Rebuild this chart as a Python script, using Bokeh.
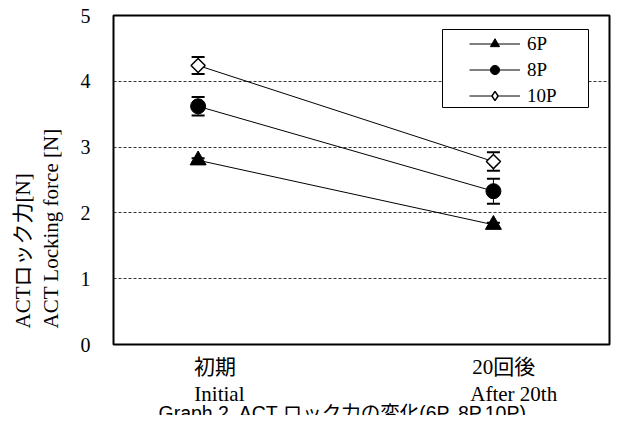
import math
from bokeh.plotting import figure
from bokeh.models import (Range1d, FixedTicker, LinearAxis, Legend, LegendItem,
                          Title, BoxAnnotation)
from bokeh.embed import file_html
from bokeh.resources import INLINE

# ---- data ----
x_pos = [1, 2]
cat_jp = ["初期", "20回後"]
cat_en = ["Initial", "After 20th"]
series = ["6P", "8P", "10P"]
v6 = [2.80, 1.82]
e6 = [0.03, 0.03]
v8 = [3.62, 2.33]
e8 = [0.14, 0.19]
v10 = [4.24, 2.78]
e10 = [0.13, 0.14]
y_ticks = [0, 1, 2, 3, 4, 5]
y_label_jp = "ACTロック力[N]"
y_label_en = "ACT Locking force [N]"
caption = "Graph 2. ACT ロック力の変化(6P, 8P,10P)"

SERIF = "Liberation Serif, Noto Sans CJK JP"
SANS = "Liberation Sans, Noto Sans CJK JP"

X0, X1 = 0.7135, 2.393
p = figure(width=612, height=415, output_backend="svg", toolbar_location=None,
           x_range=Range1d(X0, X1), y_range=Range1d(0, 5),
           min_border_left=113, min_border_right=3, min_border_top=15,
           min_border_bottom=71)
p.background_fill_color = "white"
p.border_fill_color = "white"
p.outline_line_color = "black"
p.outline_line_width = 2

# label offsets (pixels right of the category position) converted to data units
px_per_unit = 496 / (X1 - X0)
jp_ticks = [x_pos[0] + 16.8 / px_per_unit, x_pos[1] + 10.3 / px_per_unit]
en_ticks = [x_pos[0] + 21.3 / px_per_unit, x_pos[1] + 20.3 / px_per_unit]

# primary x axis: Japanese labels
xa = p.xaxis[0]
xa.ticker = FixedTicker(ticks=jp_ticks)
xa.major_label_overrides = {t: c for t, c in zip(jp_ticks, cat_jp)}
xa.major_tick_out = 0
xa.major_tick_in = 0
xa.minor_tick_out = 0
xa.minor_tick_in = 0
xa.axis_line_color = None
xa.major_label_standoff = 10
xa.major_label_text_font = SERIF
xa.major_label_text_font_size = "21px"
xa.major_label_text_color = "black"

# y axis
ya = p.yaxis[0]
ya.ticker = FixedTicker(ticks=y_ticks)
ya.major_tick_out = 0
ya.major_tick_in = 0
ya.minor_tick_out = 0
ya.minor_tick_in = 0
ya.axis_line_color = None
ya.major_label_standoff = 23
ya.major_label_text_font = SERIF
ya.major_label_text_font_size = "20px"
ya.major_label_text_color = "black"

# second x axis: English labels
xa2 = LinearAxis(ticker=FixedTicker(ticks=en_ticks),
                 major_label_overrides={t: c for t, c in zip(en_ticks, cat_en)},
                 major_tick_out=0, major_tick_in=0, minor_tick_out=0, minor_tick_in=0,
                 axis_line_color=None, major_label_standoff=0,
                 major_label_text_font=SERIF, major_label_text_font_size="21px",
                 major_label_text_color="black")
p.add_layout(xa2, "below")

p.xgrid.visible = False
p.ygrid.ticker = FixedTicker(ticks=y_ticks)
p.ygrid.grid_line_color = "#333333"
p.ygrid.grid_line_dash = "3 2"
p.ygrid.grid_line_width = 1


def lower(v, e):
    return [a - b for a, b in zip(v, e)]


def upper(v, e):
    return [a + b for a, b in zip(v, e)]


# lines
l6 = p.line(x_pos, v6, line_color="black", line_width=1)
l8 = p.line(x_pos, v8, line_color="black", line_width=1)
l10 = p.line(x_pos, v10, line_color="black", line_width=1)

# error bars
for v, e in [(v6, e6), (v8, e8), (v10, e10)]:
    lo, hi = lower(v, e), upper(v, e)
    p.segment(x0=x_pos, y0=lo, x1=x_pos, y1=hi, line_color="black", line_width=1)
    p.scatter(x_pos, lo, marker="dash", size=13, line_color="black", line_width=2)
    p.scatter(x_pos, hi, marker="dash", size=13, line_color="black", line_width=2)

# smaller markers used for the legend (hidden under the plotted markers)
g6 = p.scatter(x_pos, v6, marker="triangle", size=10, fill_color="black", line_color="black")
g8 = p.scatter(x_pos, v8, marker="circle", size=10, fill_color="black", line_color="black")
g10 = p.scatter(x_pos, v10, marker="diamond", size=12,
                fill_color="white", line_color="black", line_width=1.5)

# plotted markers
p.scatter(x_pos, v6, marker="triangle", size=16, fill_color="black", line_color="black")
p.scatter(x_pos, v8, marker="circle", size=15, fill_color="black", line_color="black")
p.scatter(x_pos, v10, marker="square", angle=math.pi / 4, size=10,
          fill_color="white", line_color="black", line_width=1.5)

box = BoxAnnotation(left=329, right=475, bottom=237, top=315,
                    left_units="screen", right_units="screen",
                    bottom_units="screen", top_units="screen",
                    fill_color="white", fill_alpha=1.0,
                    line_color="black", line_width=1, line_alpha=1.0)
p.add_layout(box)

legend = Legend(items=[LegendItem(label=series[0], renderers=[l6, g6]),
                       LegendItem(label=series[1], renderers=[l8, g8]),
                       LegendItem(label=series[2], renderers=[l10, g10])],
                location=(356, 237), padding=2, spacing=3, margin=0,
                glyph_width=51, glyph_height=23, label_height=23, label_standoff=7,
                label_text_font=SERIF, label_text_font_size="19px",
                label_text_color="black",
                border_line_color=None, background_fill_alpha=0)
p.add_layout(legend)

# y-axis titles (two lines, English nearer the axis)
t_en = Title(text=y_label_en, align="left", offset=16, vertical_align="bottom",
             standoff=29, text_font=SERIF, text_font_size="21px",
             text_font_style="normal", text_color="black")
p.add_layout(t_en, "left")
t_jp = Title(text=y_label_jp, align="left", offset=16, vertical_align="bottom",
             standoff=-25, text_font=SERIF, text_font_size="21px",
             text_font_style="normal", text_color="black")
p.add_layout(t_jp, "left")

# caption (cut off by the bottom edge, as in the source)
cap = Title(text=caption, align="left", offset=45, vertical_align="bottom",
            standoff=-17, text_font=SANS, text_font_size="19.5px",
            text_font_style="normal", text_color="black")
p.add_layout(cap, "below")

open("out.html", "w").write(file_html(p, INLINE))
